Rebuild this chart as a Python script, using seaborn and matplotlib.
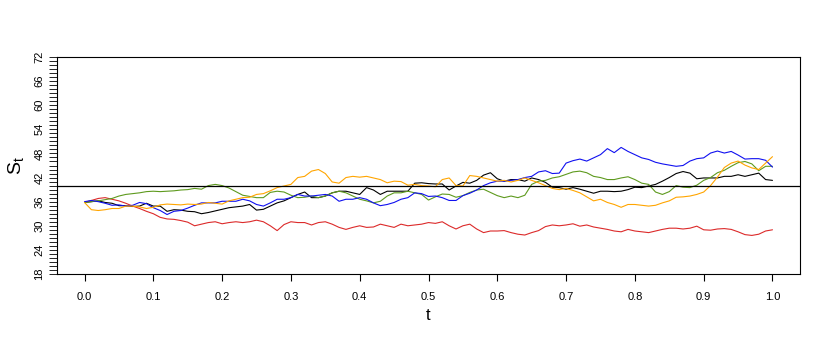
import numpy as np
import pandas as pd
import matplotlib
matplotlib.use("Agg")
import matplotlib.pyplot as plt
from matplotlib.ticker import MultipleLocator
import seaborn as sns

# time grid (t = 0.00 ... 1.00, step 0.01) and the five price paths
t = [round(i / 100, 2) for i in range(101)]

path_black = [35.8, 36.0, 36.2, 35.8, 35.6, 35.0, 35.0, 34.8, 34.9, 35.6, 34.9, 34.9, 33.6, 34.0, 33.9, 33.6, 33.5,
              33.0, 33.3, 33.7, 34.1, 34.5, 34.7, 34.9, 35.3, 33.9, 34.1, 34.9, 35.7, 36.2, 37.0, 37.8, 38.4, 37.0,
              37.0, 37.4, 38.2, 38.6, 38.6, 38.2, 37.8, 39.5, 38.9, 37.8, 38.6, 38.6, 38.6, 38.6, 40.6, 40.7, 40.5,
              40.4, 40.4, 38.9, 39.9, 40.8, 40.6, 41.3, 42.6, 43.2, 41.7, 41.1, 41.5, 41.5, 41.1, 41.9, 41.5, 40.8,
              39.6, 39.5, 39.1, 39.5, 39.1, 38.6, 38.1, 38.6, 38.6, 38.5, 38.6, 39.0, 39.6, 39.5, 39.9, 40.3,
              41.1, 42.0, 43.0, 43.5, 43.1, 41.7, 41.9, 41.9, 41.9, 42.3, 42.3, 42.7, 42.3, 42.7, 43.1, 41.5, 41.3]

path_red = [35.8, 36.3, 36.8, 37.0, 36.6, 36.2, 35.6, 34.9, 34.3, 33.6, 33.0, 32.1, 31.7, 31.6, 31.3, 30.9, 30.0,
            30.4, 30.8, 31.0, 30.5, 30.8, 31.0, 30.8, 31.0, 31.4, 31.0, 30.0, 28.8, 30.3, 31.0, 30.8, 30.8, 30.2,
            30.8, 31.0, 30.4, 29.6, 29.1, 29.6, 30.0, 29.6, 29.7, 30.4, 30.0, 29.6, 30.4, 30.0, 30.2, 30.4, 30.8,
            30.6, 31.0, 30.0, 29.2, 30.0, 30.4, 29.2, 28.3, 28.7, 28.7, 28.8, 28.3, 27.9, 27.7, 28.3, 28.8, 29.8,
            30.2, 30.0, 30.2, 30.5, 29.9, 30.2, 29.7, 29.4, 29.1, 28.7, 28.5, 29.1, 28.7, 28.5, 28.3, 28.7,
            29.1, 29.4, 29.4, 29.2, 29.4, 29.9, 29.0, 28.9, 29.2, 29.3, 29.1, 28.5, 27.8, 27.6, 27.9, 28.7, 29.0]

path_green = [35.8, 36.0, 36.2, 36.5, 36.8, 37.4, 37.8, 38.0, 38.2, 38.5, 38.6, 38.5, 38.6, 38.7, 38.9, 39.0, 39.3,
              39.1, 40.0, 40.3, 40.0, 39.4, 38.5, 37.6, 37.3, 37.0, 37.0, 38.3, 38.6, 38.4, 37.6, 37.0, 37.1, 37.4,
              37.0, 37.4, 38.2, 38.6, 38.2, 37.4, 36.6, 36.2, 35.7, 36.1, 37.4, 38.2, 38.2, 38.6, 38.2, 37.8, 36.4,
              37.2, 37.9, 37.8, 37.1, 37.5, 38.3, 38.9, 39.1, 38.3, 37.5, 37.0, 37.4, 37.0, 37.6, 40.3, 41.1, 41.3,
              41.9, 42.2, 42.8, 43.4, 43.6, 43.2, 42.3, 42.0, 41.5, 41.5, 41.9, 42.2, 41.5, 40.6, 40.3, 38.4,
              37.8, 38.5, 40.0, 39.6, 39.5, 40.1, 41.3, 42.0, 43.2, 43.8, 44.8, 45.7, 46.0, 45.4, 43.7, 44.8, 44.8]

path_blue = [36.0, 36.3, 36.0, 35.6, 35.1, 35.2, 34.9, 35.1, 35.8, 35.5, 34.5, 33.8, 32.8, 33.6, 33.8, 34.4, 35.1,
             35.7, 35.7, 35.7, 36.1, 36.1, 36.1, 36.6, 36.2, 35.3, 34.9, 35.7, 36.6, 36.6, 37.0, 37.8, 37.4, 37.4,
             37.6, 37.8, 37.4, 36.1, 36.6, 36.6, 37.0, 36.6, 35.7, 35.0, 35.3, 35.8, 36.6, 37.0, 38.2, 38.0, 37.3,
             37.4, 37.0, 36.3, 36.3, 37.5, 38.1, 38.9, 40.0, 40.7, 41.1, 41.1, 41.3, 41.5, 42.0, 42.3, 43.4, 43.7,
             43.0, 43.1, 45.6, 46.2, 46.6, 46.1, 46.9, 47.7, 49.2, 48.2, 49.5, 48.5, 47.7, 46.9, 46.5, 45.8,
             45.4, 45.1, 44.8, 45.0, 46.1, 46.7, 46.9, 48.1, 48.6, 48.1, 48.5, 47.6, 46.6, 46.7, 46.7, 46.3, 44.6]

path_orange = [35.8, 34.0, 33.8, 34.0, 34.3, 34.3, 34.9, 34.9, 34.7, 34.3, 34.6, 35.2, 35.4, 35.3, 35.2, 35.4, 35.3,
               35.4, 35.8, 35.6, 35.4, 36.2, 36.6, 37.0, 37.1, 37.8, 38.0, 38.7, 39.5, 39.9, 40.3, 42.0, 42.3, 43.6,
               44.0, 43.0, 40.9, 40.6, 42.0, 42.3, 42.1, 42.3, 41.9, 41.5, 40.7, 41.1, 41.0, 40.1, 40.3, 40.0, 39.9,
               39.7, 41.5, 41.9, 40.0, 39.9, 42.5, 42.3, 41.9, 41.5, 41.1, 41.3, 40.9, 41.3, 41.9, 41.3, 40.7, 40.0,
               39.3, 39.0, 39.3, 38.8, 38.2, 37.2, 36.2, 36.6, 35.8, 35.3, 34.6, 35.3, 35.3, 35.1, 34.9, 35.1,
               35.7, 36.2, 37.1, 37.2, 37.4, 37.8, 38.4, 40.0, 42.1, 44.5, 45.6, 46.1, 45.1, 44.4, 44.0, 45.6, 47.2]

strike = 40
path_names = ["black", "red", "green", "blue", "orange"]
path_colors = ["black", "#DC2A2A", "#5E9A1E", "#1010F0", "#FFA500"]

df = pd.concat([
    pd.DataFrame({"t": t, "S": p, "path": n})
    for n, p in zip(path_names, [path_black, path_red, path_green, path_blue, path_orange])
])

sns.set_style("white")
plt.rcParams["font.family"] = ["Liberation Sans", "DejaVu Sans"]
plt.rcParams["text.color"] = "black"
plt.rcParams["axes.labelcolor"] = "black"
plt.rcParams["xtick.color"] = "black"
plt.rcParams["ytick.color"] = "black"

fig = plt.figure(figsize=(8.3, 3.46), dpi=100)
ax = fig.add_axes([57 / 830, 1 - 274 / 346, (800 - 57) / 830, (274 - 57) / 346])

sns.lineplot(data=df, x="t", y="S", hue="path", palette=dict(zip(path_names, path_colors)),
             hue_order=path_names, linewidth=0.8, legend=False, ax=ax, estimator=None, sort=False)
ax.axhline(strike, color="black", linewidth=0.9)

ax.set_xlim(-0.04, 1.04)
ax.set_ylim(18, 72)
ax.set_xticks(np.arange(0, 1.01, 0.1))
ax.set_xticklabels([f"{v:.1f}" for v in np.arange(0, 1.01, 0.1)], fontsize=8)
ax.set_yticks(np.arange(18, 73, 6))
ax.set_yticklabels([str(v) for v in range(18, 73, 6)], fontsize=8, rotation=90, va="center")
ax.yaxis.set_minor_locator(MultipleLocator(1))
ax.tick_params(axis="x", which="major", direction="out", length=5, width=0.8, colors="black", pad=8)
ax.tick_params(axis="y", which="both", direction="out", length=6, width=0.6, colors="black", pad=3,
               left=True)
ax.tick_params(axis="x", bottom=True)
for s in ax.spines.values():
    s.set_color("black")
    s.set_linewidth(0.8)

ax.set_xlabel("t", fontsize=12, labelpad=4, color="black")
ax.set_ylabel(r"$\mathregular{S_t}$", fontsize=14, labelpad=6, color="black")

fig.savefig("out.png", dpi=100)
